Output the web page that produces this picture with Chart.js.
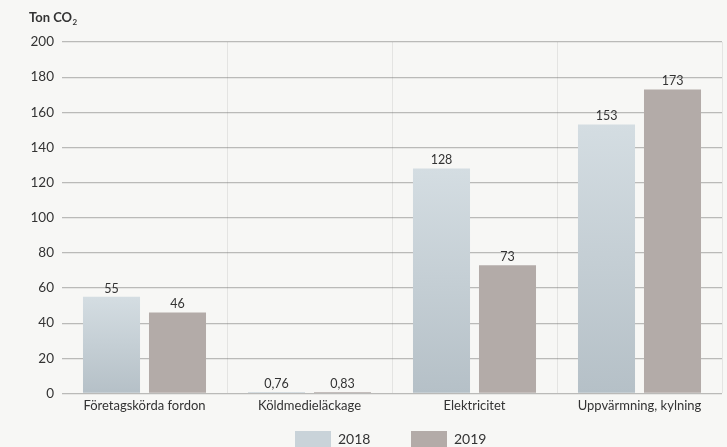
<!DOCTYPE html>
<html>
<head>
<meta charset="utf-8">
<script src="https://cdn.jsdelivr.net/npm/chart.js@4/dist/chart.umd.min.js"></script>
<style>
  html, body { margin: 0; padding: 0; background: #f7f7f5; }
  #wrap { width: 727px; height: 447px; }
</style>
</head>
<body>
<div id="wrap"><canvas id="co2Chart"></canvas></div>
<script>
const categories = ['Företagskörda fordon', 'Köldmedieläckage', 'Elektricitet', 'Uppvärmning, kylning'];
const years = ['2018', '2019'];
const values2018 = [55, 0.76, 128, 153];
const values2019 = [46, 0.83, 73, 173];
const yTicks = [0, 20, 40, 60, 80, 100, 120, 140, 160, 180, 200];

const fontFamily = 'Lato, "Open Sans", sans-serif';
const textColor = '#333333';
const color2019 = '#b3aba8';

function fmt(v) {
    return String(v).replace('.', ',');
}

// 2018 bars fade from light on top to darker at the base
function gradient2018(ctx) {
    const chart = ctx.chart;
    if (!chart.chartArea || ctx.dataIndex === undefined) return '#c7d1d7';
    const y = chart.scales.y;
    const top = y.getPixelForValue(ctx.raw);
    const base = y.getPixelForValue(0);
    const g = chart.ctx.createLinearGradient(0, top, 0, base);
    g.addColorStop(0, '#d4dde2');
    g.addColorStop(1, '#b5c0c7');
    return g;
}

const valueLabels = {
    id: 'valueLabels',
    afterDatasetsDraw(chart) {
        const c = chart.ctx;
        c.save();
        c.font = '12.5px ' + fontFamily;
        c.fillStyle = textColor;
        c.textAlign = 'center';
        c.textBaseline = 'bottom';
        chart.data.datasets.forEach((ds, i) => {
            chart.getDatasetMeta(i).data.forEach((bar, j) => {
                c.fillText(fmt(ds.data[j]), bar.x, bar.y - 2);
            });
        });
        c.restore();
    }
};

const extras = {
    id: 'extras',
    afterDraw(chart) {
        const c = chart.ctx;
        c.save();
        // axis title
        c.fillStyle = textColor;
        c.textBaseline = 'alphabetic';
        c.textAlign = 'left';
        c.font = 'bold 13px ' + fontFamily;
        c.fillText('Ton CO', 29, 22);
        const w = c.measureText('Ton CO').width;
        c.font = 'bold 8px ' + fontFamily;
        c.fillText('2', 29 + w + 0.5, 25);

        // legend
        const colors = ['#c9d3d9', color2019];
        const step = 116;
        const mid = (chart.chartArea.left + chart.chartArea.right) / 2;
        let x = mid - 97;
        c.font = '14px ' + fontFamily;
        c.textBaseline = 'middle';
        years.forEach((yr, i) => {
            c.fillStyle = colors[i];
            c.fillRect(x, 431, 36, 16);
            c.fillStyle = textColor;
            c.fillText(yr, x + 43, 439);
            x += step;
        });
        c.restore();
    }
};

const ctx = document.getElementById('co2Chart').getContext('2d');
const co2Chart = new Chart(ctx, {
    type: 'bar',
    data: {
        labels: categories,
        datasets: [
            {
                label: years[0],
                data: values2018,
                backgroundColor: gradient2018,
                categoryPercentage: 0.8,
                barPercentage: 0.864
            },
            {
                label: years[1],
                data: values2019,
                backgroundColor: color2019,
                categoryPercentage: 0.8,
                barPercentage: 0.864
            }
        ]
    },
    options: {
        responsive: true,
        maintainAspectRatio: false,
        animation: false,
        layout: { padding: { top: 42, right: 5, left: 29, bottom: 28 } },
        plugins: {
            legend: { display: false },
            tooltip: { enabled: false }
        },
        scales: {
            x: {
                offset: true,
                border: { display: false },
                grid: {
                    offset: true,
                    drawTicks: false,
                    lineWidth: 1,
                    color: (c) => (c.index === 0 || c.index === categories.length) ? 'rgba(0,0,0,0)' : '#e4e4e2'
                },
                ticks: {
                    color: textColor,
                    font: { family: fontFamily, size: 13 },
                    padding: 5,
                    maxRotation: 0
                }
            },
            y: {
                min: 0,
                max: 200,
                z: 1,
                border: { display: false },
                afterBuildTicks: (axis) => { axis.ticks = yTicks.map(v => ({ value: v })); },
                afterFit: (axis) => { axis.width = 33; },
                grid: {
                    drawTicks: false,
                    lineWidth: 1.2,
                    color: 'rgba(110,110,110,0.45)'
                },
                ticks: {
                    color: textColor,
                    font: { family: fontFamily, size: 13.5 },
                    padding: 8
                }
            }
        }
    },
    plugins: [valueLabels, extras]
});
</script>
</body>
</html>
